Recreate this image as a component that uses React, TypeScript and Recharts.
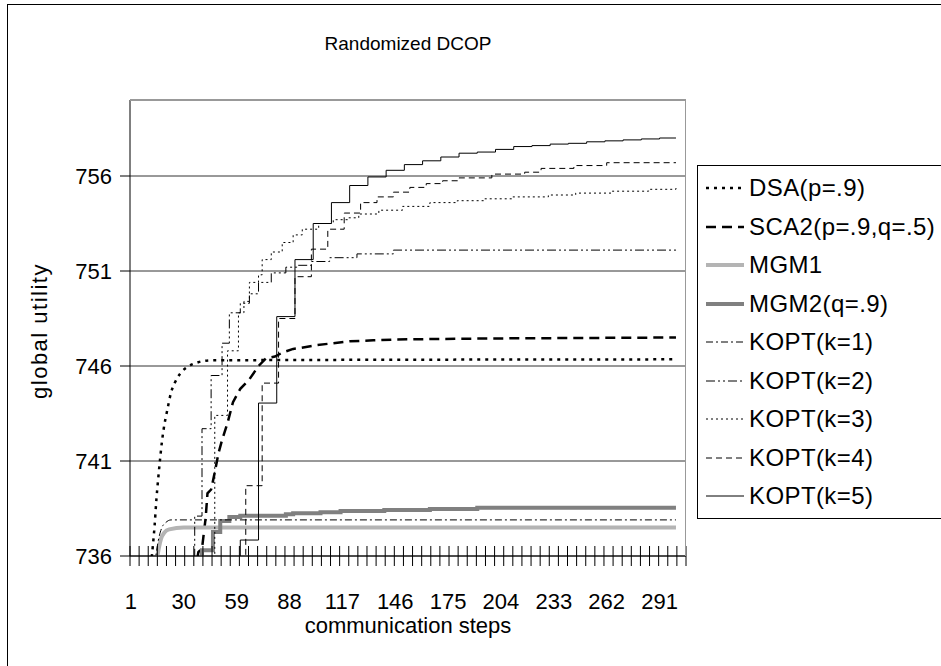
import { LineChart, Line, XAxis, YAxis, CartesianGrid } from "recharts";

type Pt = [number, number];

// x tick labels and y ticks
const xLabels = [1, 30, 59, 88, 117, 146, 175, 204, 233, 262, 291];
const yTicks = [736, 741, 746, 751, 756];

// series, as [step, utility] key points
const dsa: Pt[] = [
  [10, 733], [12, 735.5], [13, 736.5], [14, 737.6], [15, 739], [16, 740.1], [17, 741.1],
  [18, 742], [19, 742.7], [21, 743.7], [23, 744.6], [25, 745.1], [28, 745.6], [32, 745.95],
  [38, 746.2], [45, 746.3], [300, 746.35],
];
const sca2: Pt[] = [
  [36, 735], [38, 736.2], [40, 736.4], [42, 738], [43, 739.3], [45, 739.5], [47, 740.4],
  [49, 741.4], [51, 742.1], [54, 743], [57, 744.1], [61, 744.8], [66, 745.3], [71, 746],
  [75, 746.4], [80, 746.5], [84, 746.7], [90, 746.9], [94, 746.95], [103, 747.1],
  [112, 747.2], [121, 747.3], [134, 747.35], [147, 747.4], [200, 747.45], [300, 747.5],
];
const mgm1: Pt[] = [
  [14, 735.5], [15.5, 736], [16.5, 736.5], [17.5, 736.9], [19.5, 737.25], [22, 737.4],
  [30, 737.5], [300, 737.5],
];
const mgm2: Pt[] = [
  [1, 730], [40, 736.3], [46, 737.26], [50, 737.84], [55, 738.05], [61, 738.12], [86, 738.2],
  [90, 738.25], [105, 738.3], [116, 738.37], [140, 738.42], [165, 738.47], [191, 738.54],
  [300, 738.54],
];
const kopt1: Pt[] = [
  [14, 735.5], [16, 736.8], [18, 737.5], [20, 737.75], [23, 737.9], [300, 737.9],
];
const kopt2: Pt[] = [
  [1, 730], [36, 738.1], [40, 742.7], [45, 745.5], [51, 747.2], [55, 748.8], [61, 749.3],
  [66, 749.8], [71, 750.4], [78, 750.9], [86, 751.2], [92, 751.3], [100, 751.5],
  [110, 751.7], [125, 751.9], [145, 752.1], [300, 752.15],
];
const kopt3: Pt[] = [
  [1, 730], [47, 743.4], [54, 746.8], [60, 748.8], [63, 749.4], [66, 750.4], [71, 750.8],
  [73, 751.6], [78, 752], [84, 752.5], [90, 752.9], [95, 753.2], [104, 753.5], [112, 753.7],
  [120, 753.8], [126, 754], [137, 754.2], [150, 754.4], [165, 754.6], [180, 754.7],
  [195, 754.8], [210, 754.9], [230, 755], [245, 755.1], [265, 755.2], [285, 755.3],
  [300, 755.4],
];
const kopt4: Pt[] = [
  [1, 730], [64, 739.7], [73, 745.1], [82, 748.5], [91, 750.7], [100, 752.15], [109, 753.2],
  [118, 754.05], [127, 754.6], [136, 754.9], [145, 755.15], [154, 755.4], [163, 755.6],
  [172, 755.75], [181, 755.9], [199, 756.1], [217, 756.2], [226, 756.4], [244, 756.55],
  [262, 756.7], [300, 756.7],
];
const kopt5: Pt[] = [
  [1, 730], [61, 736.84], [71, 744.05], [81, 748.6], [91, 751.6], [101, 753.5], [111, 754.6],
  [121, 755.5], [131, 755.95], [141, 756.3], [151, 756.6], [161, 756.8], [171, 757],
  [181, 757.2], [191, 757.26], [201, 757.4], [211, 757.55], [221, 757.6], [231, 757.68],
  [241, 757.72], [251, 757.8], [261, 757.85], [271, 757.9], [281, 757.95], [291, 758],
  [300, 758],
];

const FONT = '"Liberation Sans", Arial, sans-serif';

const series = [
  { name: "DSA(p=.9)", data: dsa, color: "#000", width: 2.5, dash: "3 5", type: "monotone" },
  { name: "SCA2(p=.9,q=.5)", data: sca2, color: "#000", width: 2.5, dash: "10 6", type: "linear" },
  { name: "MGM1", data: mgm1, color: "#b4b4b4", width: 4, dash: undefined, type: "monotone" },
  { name: "MGM2(q=.9)", data: mgm2, color: "#808080", width: 4, dash: undefined, type: "stepAfter" },
  { name: "KOPT(k=1)", data: kopt1, color: "#000", width: 1, dash: "7 3 2 3", type: "monotone" },
  { name: "KOPT(k=2)", data: kopt2, color: "#000", width: 1, dash: "9 3 2 3 2 3", type: "stepAfter" },
  { name: "KOPT(k=3)", data: kopt3, color: "#000", width: 1, dash: "2 3", type: "stepAfter" },
  { name: "KOPT(k=4)", data: kopt4, color: "#000", width: 1, dash: "6 4", type: "stepAfter" },
  { name: "KOPT(k=5)", data: kopt5, color: "#000", width: 1, dash: undefined, type: "stepAfter" },
] as const;

// tick marks sit between every 5 categories, labels on the categories themselves
const minorTicks = Array.from({ length: 62 }, (_, i) => 0.5 + i * 5);
const allTicks = [...minorTicks, ...xLabels];

const XTick = ({ x, y, payload }: { x: number; y: number; payload: { value: number } }) => {
  if (payload.value % 1 !== 0) {
    return <line x1={x} x2={x} y1={y - 10} y2={y + 10} stroke="#000" strokeWidth={1} />;
  }
  return (
    <text x={x} y={y + 53} textAnchor="middle" fontSize={22} fontFamily={FONT} fill="#000">
      {payload.value}
    </text>
  );
};

export default function App() {
  return (
    <div style={{ position: "absolute", left: 0, top: 0, width: 941, height: 666, background: "#fff", overflow: "hidden" }}>
      <div style={{ position: "absolute", left: 7, top: 4, width: 960, height: 680, border: "1px solid #000", boxSizing: "border-box" }} />
      <div style={{ position: "absolute", left: 0, top: 0 }}>
        <LineChart width={941} height={666} margin={{ top: 100, right: 255, bottom: 50, left: 70 }}>
          <CartesianGrid vertical={false} stroke="#333" />
          <XAxis
            dataKey="s"
            type="number"
            domain={[0.5, 305.5]}
            ticks={allTicks}
            interval={0}
            tick={XTick as any}
            tickSize={0}
            tickMargin={0}
            tickLine={false}
            axisLine={{ stroke: "#000" }}
            height={60}
          />
          <YAxis
            type="number"
            domain={[736, 760]}
            ticks={yTicks}
            allowDataOverflow
            width={60}
            tickSize={10}
            tickMargin={8}
            tickLine={{ stroke: "#000" }}
            axisLine={{ stroke: "#000" }}
            tick={{ fontSize: 22, fill: "#000", fontFamily: FONT }}
          />
          {series.map((s) => (
            <Line
              key={s.name}
              name={s.name}
              data={s.data.map(([st, v]) => ({ s: st, v }))}
              dataKey="v"
              type={s.type as any}
              stroke={s.color}
              strokeWidth={s.width}
              strokeDasharray={s.dash}
              dot={false}
              activeDot={false}
              isAnimationActive={false}
            />
          ))}
        </LineChart>
      </div>
      <div style={{ position: "absolute", left: 130, top: 100, width: 556, height: 456, borderTop: "1px solid #999", borderRight: "1px solid #999", boxSizing: "border-box", pointerEvents: "none" }} />
      <div style={{ position: "absolute", left: 130, width: 556, top: 33, textAlign: "center", fontFamily: FONT, fontSize: 19 }}>
        Randomized DCOP
      </div>
      <div style={{ position: "absolute", left: 130, width: 556, top: 613, textAlign: "center", fontFamily: FONT, fontSize: 22 }}>
        communication steps
      </div>
      <div style={{ position: "absolute", left: 40, top: 331, fontFamily: FONT, fontSize: 22, letterSpacing: 1.5, whiteSpace: "nowrap", transform: "translate(-50%, -50%) rotate(-90deg)" }}>
        global utility
      </div>
      <div style={{ position: "absolute", left: 697, top: 165, width: 260, height: 354, border: "1px solid #000", background: "#fff", boxSizing: "border-box" }}>
        {series.map((s, i) => (
          <div key={s.name} style={{ position: "absolute", left: 7, top: 8 + i * 38.5, height: 28, display: "flex", alignItems: "center", fontFamily: FONT, fontSize: 24, letterSpacing: 0.4, whiteSpace: "nowrap" }}>
            <svg width={40} height={10} style={{ marginRight: 4 }}>
              <line x1={1} x2={39} y1={5} y2={5} stroke={s.color} strokeWidth={s.width} strokeDasharray={s.dash} />
            </svg>
            {s.name}
          </div>
        ))}
      </div>
    </div>
  );
}
